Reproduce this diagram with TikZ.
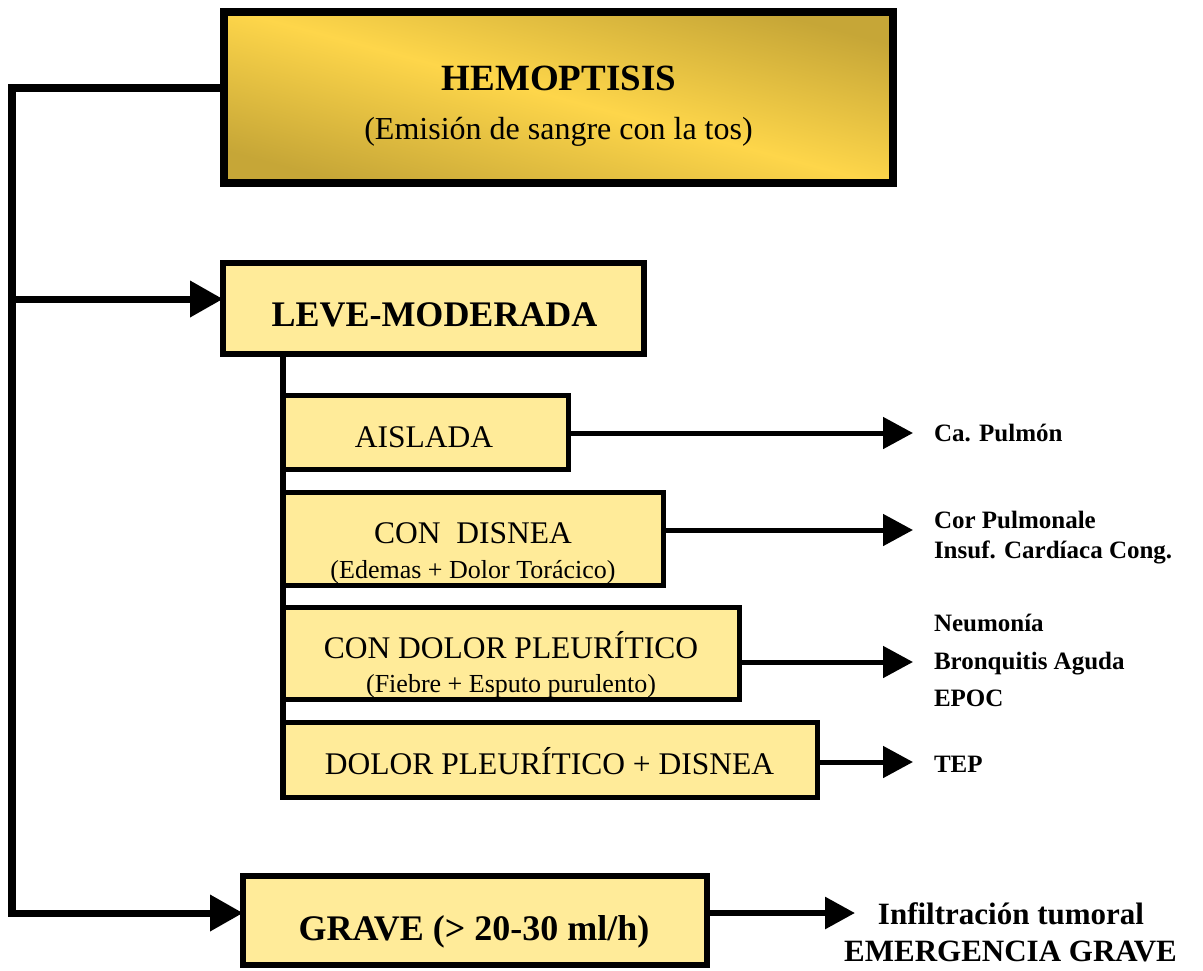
\documentclass[tikz,border=0pt]{standalone}
\usepackage{fontspec}
\setmainfont{Liberation Serif}
\usetikzlibrary{arrows.meta}

\definecolor{paleyellow}{RGB}{255,235,153}
\definecolor{goldlight}{RGB}{254,214,74}
\definecolor{golddark}{RGB}{198,166,55}

\newcommand{\fsz}[1]{\fontsize{#1}{#1}\selectfont}

\begin{document}
\begin{tikzpicture}[x=1pt,y=-1pt,
  every node/.style={inner sep=0pt, outer sep=0pt},
  topbox/.style={draw=black, line width=8pt, shade, top color=golddark,
    bottom color=golddark, middle color=goldlight, shading angle=-15},
  mainbox/.style={draw=black, line width=6pt, fill=paleyellow},
  subfill/.style={fill=paleyellow},
  subborder/.style={draw=black, line width=5pt},
  txt/.style={anchor=base},
  outtxt/.style={anchor=base west, font=\bfseries\fsz{25}},
  spine/.style={line width=8pt, line join=miter, line cap=rect},
  mainarr/.style={line width=7pt, -{Triangle[length=33pt,width=35pt]}},
  subline/.style={line width=6pt},
  outarr/.style={line width=5pt, -{Triangle[length=30pt,width=31pt]}}
]
\useasboundingbox (0,0) rectangle (1203,970);

% ---- main boxes ----
\node[topbox, minimum width=669pt, minimum height=171pt] (hemo) at (558.5,97.5) {};
\node[txt, font=\bfseries\fsz{37}] (hemoA) at (559,90) {HEMOPTISIS};
\node[txt, font=\fsz{32}] (hemoB) at (558.5,139) {(Emisión de sangre con la tos)};

\node[mainbox, minimum width=421pt, minimum height=91pt] (leve) at (433.5,308.5) {};
\node[txt, font=\bfseries\fsz{36}] (leveT) at (434.5,326) {LEVE-MODERADA};

\node[mainbox, minimum width=464pt, minimum height=89pt] (grave) at (475,920.5) {};
\node[txt, font=\bfseries\fsz{36}] (graveT) at (474,940) {GRAVE (> 20-30 ml/h)};

% ---- sub-boxes of the mild/moderate branch ----
\node[subfill, minimum width=286pt, minimum height=74pt] (aisl) at (425.5,432.5) {};
\node[subfill, minimum width=381pt, minimum height=93pt] (disn) at (473,539) {};
\node[subfill, minimum width=457pt, minimum height=92pt] (dolo) at (511,653.5) {};
\node[subfill, minimum width=535pt, minimum height=75pt] (tepb) at (550,760) {};

\node[txt, font=\fsz{31.5}] (aislT) at (424,447) {AISLADA};
\node[txt, font=\fsz{31.5}] (disnA) at (473,543) {CON\ \ DISNEA};
\node[txt, font=\fsz{26}] (disnB) at (473,578) {(Edemas + Dolor Torácico)};
\node[txt, font=\fsz{31.5}] (doloA) at (511,658) {CON DOLOR PLEURÍTICO};
\node[txt, font=\fsz{26}] (doloB) at (511,692.5) {(Fiebre + Esputo purulento)};
\node[txt, font=\fsz{31.5}] (tepT) at (549.5,774) {DOLOR PLEURÍTICO + DISNEA};

% borders stroked over the text, so the low subtitles are cut by the frame
\foreach \b in {aisl,disn,dolo,tepb}
  \draw[subborder] (\b.north west) rectangle (\b.south east);

% ---- left spine and its arrows ----
\coordinate (sTop) at (12,88);
\coordinate (sLeve) at (12,299);
\coordinate (sGrave) at (12,913);
\draw[spine] (hemo.west |- sTop) -- (sTop) -- (sGrave);
\draw[mainarr] (sLeve) -- (sLeve -| leve.west);
\draw[mainarr] (sGrave) -- (sGrave -| grave.west);

% ---- spine of the sub-boxes ----
\draw[subline] (leve.south -| tepb.west) -- (tepb.south west);

% ---- outcome arrows and labels ----
\coordinate (o1) at (913,433);
\coordinate (o2) at (913,530);
\coordinate (o3) at (913,662);
\coordinate (o4) at (913,762);
\coordinate (o5) at (855,913);
\draw[outarr] (o1 -| aisl.east) -- (o1);
\draw[outarr] (o2 -| disn.east) -- (o2);
\draw[outarr] (o3 -| dolo.east) -- (o3);
\draw[outarr] (o4 -| tepb.east) -- (o4);
\draw[outarr, line width=6pt] (o5 -| grave.east) -- (o5);

\node[outtxt] (r1) at (934,441) {Ca. Pulmón};
\node[outtxt] (r2a) at (934,528) {Cor Pulmonale};
\node[outtxt] (r2b) at (934,558) {Insuf. Cardíaca Cong.};
\node[outtxt] (r3a) at (934,631) {Neumonía};
\node[outtxt] (r3b) at (934,669) {Bronquitis Aguda};
\node[outtxt] (r3c) at (934,706) {EPOC};
\node[outtxt] (r4) at (934,772) {TEP};
\node[txt, font=\bfseries\fsz{31}] (r5a) at (1011,924) {Infiltración tumoral};
\node[txt, font=\bfseries\fsz{31}] (r5b) at (1010.5,961) {EMERGENCIA GRAVE};
\end{tikzpicture}
\end{document}
